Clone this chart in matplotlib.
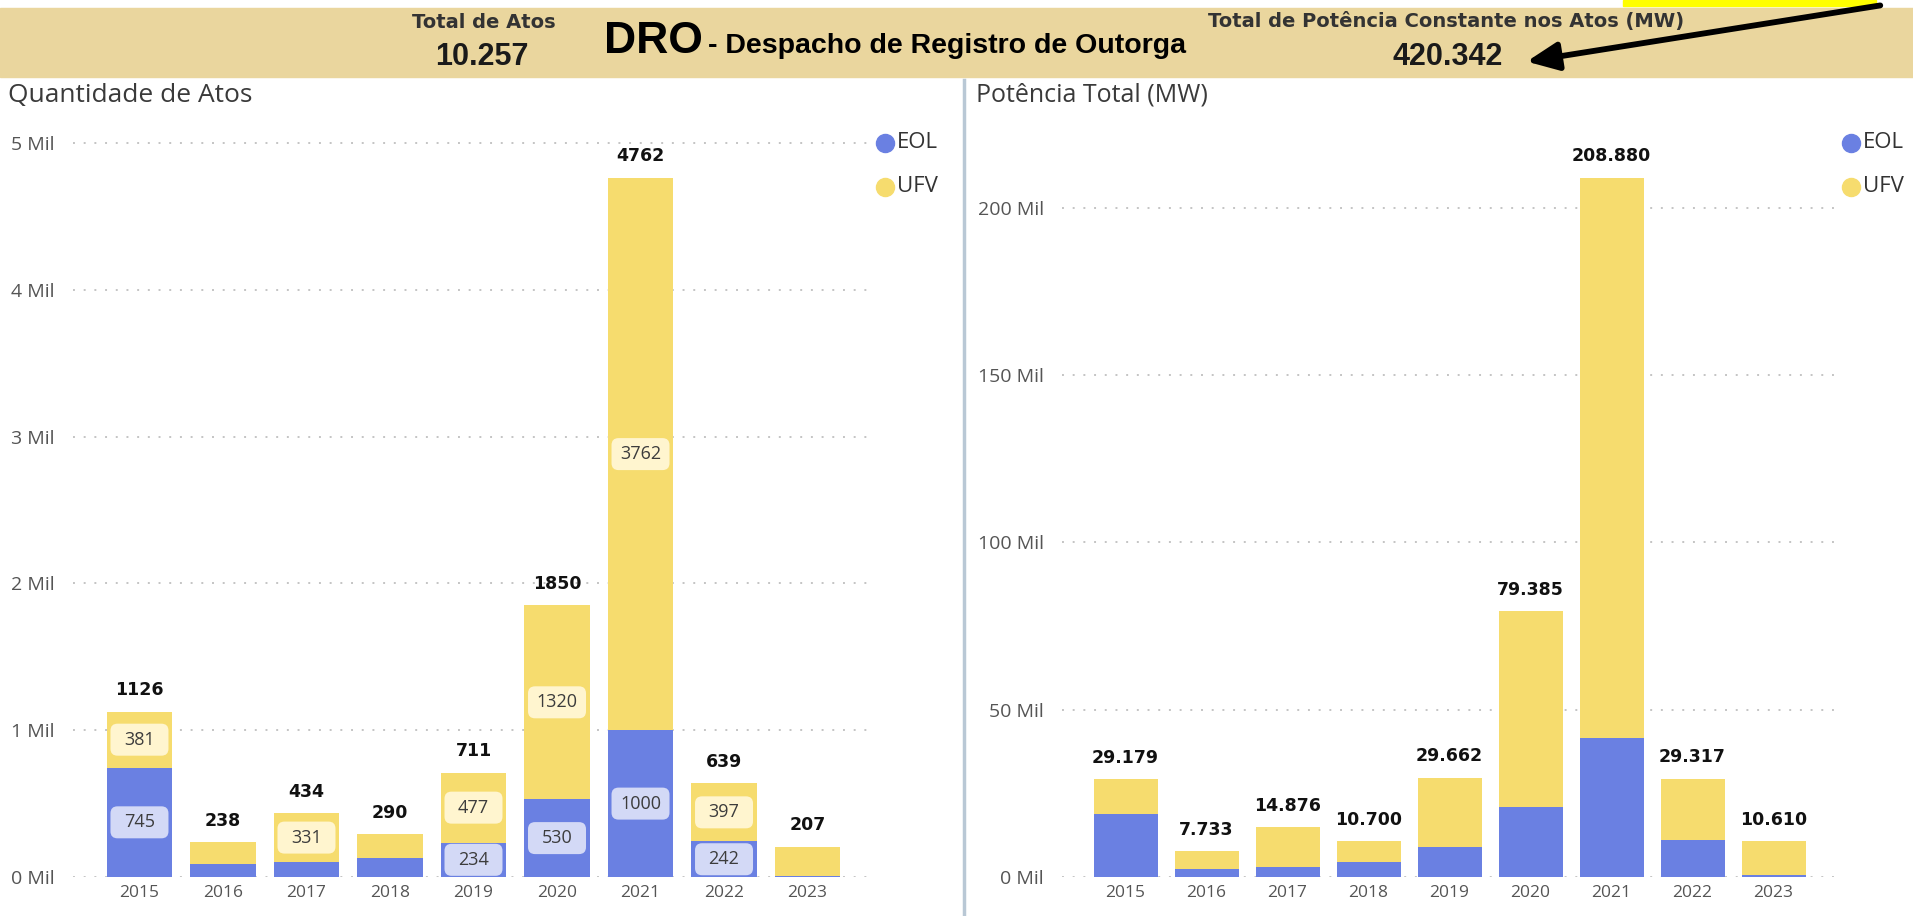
import matplotlib
matplotlib.use("Agg")
import matplotlib.pyplot as plt
import matplotlib.transforms as mtransforms
from matplotlib.patches import FancyBboxPatch, Rectangle, FancyArrowPatch
from matplotlib.lines import Line2D

plt.rcParams['font.family'] = ['Open Sans', 'DejaVu Sans']

anos = ["2015", "2016", "2017", "2018", "2019", "2020", "2021", "2022", "2023"]

atos_eol = [745, 86, 103, 131, 234, 530, 1000, 242, 5]
atos_ufv = [381, 152, 331, 159, 477, 1320, 3762, 397, 202]
atos_total = [1126, 238, 434, 290, 711, 1850, 4762, 639, 207]

pot_eol = [18830, 2390, 2890, 4580, 8960, 21020, 41630, 11050, 500]
pot_ufv = [10349, 5343, 11986, 6120, 20702, 58365, 167250, 18267, 10110]
pot_total = [29179, 7733, 14876, 10700, 29662, 79385, 208880, 29317, 10610]

atos_ticks = [0, 1000, 2000, 3000, 4000, 5000]
pot_ticks = [0, 50000, 100000, 150000, 200000]

total_atos = "10.257"
total_pot = "420.342"

AZUL = "#6A80E2"
AMARELO = "#F6DC6E"
W, H = 1913, 916


def fy(y):
    return 1 - y / H


def px_rect(x0, y0, x1, y1):
    return [x0 / W, 1 - y1 / H, (x1 - x0) / W, (y1 - y0) / H]


def fmt_br(v):
    return f"{v:,}".replace(",", ".")


def seg_label(ax, x, y, txt, face):
    tr = mtransforms.Affine2D() + mtransforms.ScaledTranslation(x, y, ax.transData)
    box = FancyBboxPatch((-29, -16), 58, 32, boxstyle="round,pad=0,rounding_size=7",
                         transform=tr, fc=face, ec="none", zorder=3, clip_on=False)
    ax.add_artist(box)
    ax.text(x, y, txt, ha="center", va="center", fontsize=13, color="#3c3c3c", zorder=4)


def draw_panel(ax, eol, ufv, total, ticks, top, width, labels_tot, seg_min=None):
    x = list(range(len(anos)))
    ax.bar(x, eol, width=width, color=AZUL, zorder=2)
    ax.bar(x, ufv, bottom=eol, width=width, color=AMARELO, zorder=2)
    for i in x:
        ax.annotate(labels_tot[i], (i, total[i]), xytext=(0, 9), textcoords="offset points",
                    ha="center", va="bottom", fontsize=12.5, fontweight="bold",
                    family="DejaVu Sans", color="#111111")
        if seg_min is not None:
            if eol[i] >= seg_min:
                seg_label(ax, i, eol[i] / 2, str(eol[i]), "#D3D9F6")
            if ufv[i] >= seg_min:
                seg_label(ax, i, eol[i] + ufv[i] / 2, str(ufv[i]), "#FFF5CF")
    ax.set_ylim(0, top)
    ax.set_yticks(ticks)
    ax.set_yticklabels([f"{t // 1000} Mil" for t in ticks])
    ax.set_xticks(x)
    ax.set_xticklabels(anos)
    ax.grid(axis="y", linestyle=(0, (1, 4.5)), linewidth=1.4, color="#C4C4C4", zorder=0)
    for s in ax.spines.values():
        s.set_visible(False)
    ax.tick_params(axis="y", length=0, pad=13, labelsize=14, labelcolor="#555555")
    ax.tick_params(axis="x", length=0, pad=6, labelsize=12.5, labelcolor="#555555")


fig = plt.figure(figsize=(W / 100, H / 100), dpi=100)

# faixa do cabecalho
fig.add_artist(Rectangle((0, fy(77)), 1, 69 / H, transform=fig.transFigure,
                         color="#EAD69E", zorder=0))
fig.add_artist(Rectangle((1623 / W, fy(6)), 253 / W, 6 / H, transform=fig.transFigure,
                         color="#FFFF00", zorder=1))

fig.text(484 / W, fy(22), "Total de Atos", ha="center", va="center", fontsize=14,
         fontweight="bold", family="DejaVu Sans", color="#333333")
fig.text(482 / W, fy(57), total_atos, ha="center", va="center", fontsize=22,
         fontweight="bold", family="Liberation Sans", color="#1a1a1a")
fig.text(1446 / W, fy(22), "Total de Potência Constante nos Atos (MW)", ha="center",
         va="center", fontsize=14, fontweight="bold", family="DejaVu Sans", color="#333333")
fig.text(1448 / W, fy(57), total_pot, ha="center", va="center", fontsize=22,
         fontweight="bold", family="Liberation Sans", color="#1a1a1a")
fig.text(604 / W, fy(53), "DRO", ha="left", va="baseline", fontsize=32,
         fontweight="bold", family="Liberation Sans", color="#000000")
fig.text(708 / W, fy(53), "- Despacho de Registro de Outorga", ha="left", va="baseline",
         fontsize=20.5, fontweight="bold", family="Liberation Sans", color="#000000")

seta = FancyArrowPatch((1883 / W, fy(5)), (1524 / W, fy(62)), transform=fig.transFigure,
                       arrowstyle="-|>,head_length=1.0,head_width=0.45", mutation_scale=19,
                       lw=4.2, color="#000000", zorder=5)
fig.add_artist(seta)

# divisoria
fig.add_artist(Line2D([964 / W, 964 / W], [fy(80), 0], transform=fig.transFigure,
                      color="#B9C8D5", lw=2.5))

# painel esquerdo
ax1 = fig.add_axes(px_rect(73, 125, 874, 877))
draw_panel(ax1, atos_eol, atos_ufv, atos_total, atos_ticks, 5123, 0.78,
           [str(v) for v in atos_total], seg_min=220)
ax1.set_xlim(-0.796, 8.796)
fig.text(8 / W, fy(95), "Quantidade de Atos", ha="left", va="center", fontsize=19,
         color="#3a3a3a")

# painel direito
ax2 = fig.add_axes(px_rect(1062, 125, 1838, 877))
draw_panel(ax2, pot_eol, pot_ufv, pot_total, pot_ticks, 224700, 0.79,
           [fmt_br(v) for v in pot_total])
ax2.set_xlim(-0.784, 8.796)
fig.text(976 / W, fy(95), "Potência Total (MW)", ha="left", va="center", fontsize=18,
         color="#3a3a3a")

# legendas
for lx in (885, 1851):
    for ly, nome, cor in ((143, "EOL", AZUL), (187, "UFV", AMARELO)):
        fig.add_artist(Line2D([lx / W], [fy(ly)], marker="o", ms=13, color=cor, mec=cor,
                              transform=fig.transFigure))
        fig.text((lx + 12) / W, fy(ly), nome, ha="left", va="center", fontsize=16,
                 color="#333333")

fig.savefig("out.png", dpi=100)
